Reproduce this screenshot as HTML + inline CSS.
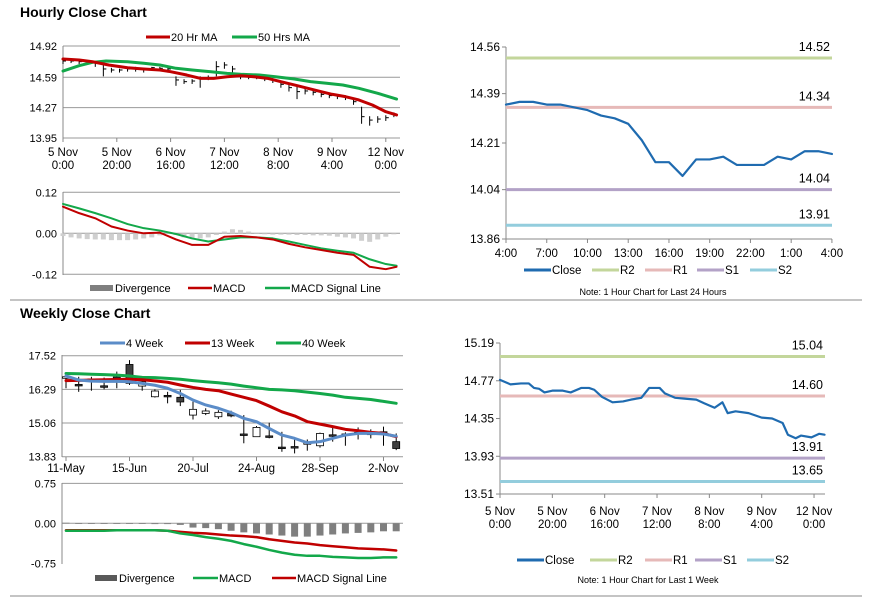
<!DOCTYPE html>
<html><head><meta charset="utf-8"><style>
html,body{margin:0;padding:0;background:#fff;}
svg{display:block;font-family:"Liberation Sans",Arial,sans-serif;}
</style></head><body>
<svg id="s" width="873" height="601" viewBox="0 0 873 601" xmlns="http://www.w3.org/2000/svg">
<rect x="0" y="0" width="873" height="601" fill="#fff"/>
<text x="20" y="17" font-size="14" font-weight="bold" fill="#000">Hourly Close Chart</text>
<text x="20" y="318" font-size="14" font-weight="bold" fill="#000">Weekly Close Chart</text>
<line x1="10" y1="300" x2="862" y2="300" stroke="#888" stroke-width="1"/>
<line x1="10" y1="596" x2="862" y2="596" stroke="#888" stroke-width="1"/>
</svg>
<script>
// ---------- Hourly (top-left) ----------
const hBarHours = [0,3,6,9,12,15,18,21,24,27,30,33,36,39,42,45,48,51,54,57,60,63,66,69,72,75,78,81,84,87,90,93,96,99,102,105,108,111,114,117,120,123];
const hBarClose = [14.762,14.762,14.755,14.748,14.737,14.678,14.667,14.667,14.678,14.674,14.667,14.692,14.685,14.678,14.562,14.544,14.551,14.579,14.586,14.702,14.720,14.678,14.597,14.590,14.586,14.579,14.562,14.516,14.481,14.439,14.446,14.432,14.410,14.397,14.387,14.375,14.333,14.175,14.139,14.150,14.164,14.193];
const hBarHigh = [14.78,14.78,14.77,14.76,14.75,14.74,14.69,14.68,14.70,14.70,14.69,14.70,14.70,14.69,14.60,14.57,14.57,14.60,14.61,14.76,14.75,14.71,14.61,14.61,14.60,14.60,14.58,14.55,14.51,14.50,14.47,14.45,14.44,14.42,14.41,14.40,14.37,14.28,14.18,14.18,14.19,14.22];
const hBarLow = [14.73,14.74,14.73,14.72,14.70,14.60,14.64,14.64,14.65,14.65,14.64,14.66,14.66,14.64,14.50,14.52,14.52,14.48,14.56,14.60,14.68,14.64,14.57,14.57,14.57,14.55,14.53,14.48,14.44,14.36,14.41,14.40,14.38,14.37,14.36,14.35,14.30,14.10,14.08,14.11,14.13,14.17];
const hMa20Hours = [0,6,11,17,24,30,36,40,46,51,56,61,66,71,76,81,86,91,96,100,105,110,115,120,124];
const hMa20 = [14.783,14.772,14.754,14.720,14.691,14.678,14.667,14.649,14.614,14.579,14.579,14.596,14.607,14.596,14.579,14.544,14.509,14.474,14.438,14.411,14.386,14.351,14.298,14.227,14.193];
const hMa50Hours = [0,6,11,16,24,30,36,42,48,55,61,66,73,79,86,92,98,104,110,117,124];
const hMa50 = [14.656,14.712,14.748,14.762,14.754,14.738,14.720,14.685,14.667,14.649,14.632,14.622,14.614,14.596,14.572,14.544,14.527,14.509,14.474,14.421,14.361];
const hYTicks = [14.92,14.59,14.27,13.95];
const hYTickLabels = ["14.92","14.59","14.27","13.95"];
const hXTickHours = [0,20,40,60,80,100,120];
const hXLabels1 = ["5 Nov","5 Nov","6 Nov","7 Nov","8 Nov","9 Nov","12 Nov"];
const hXLabels2 = ["0:00","20:00","16:00","12:00","8:00","4:00","0:00"];
// Hourly MACD
const hMacdHours = [0,6,12,18,24,30,36,42,48,54,60,66,72,78,84,90,96,102,108,114,120,124];
const hMacd = [0.078,0.059,0.044,0.020,0.008,0,0.002,-0.018,-0.034,-0.034,-0.010,-0.008,-0.012,-0.018,-0.031,-0.041,-0.049,-0.057,-0.063,-0.098,-0.105,-0.098];
const hSignal = [0.086,0.073,0.059,0.044,0.027,0.015,0.008,-0.002,-0.015,-0.024,-0.018,-0.012,-0.012,-0.015,-0.024,-0.034,-0.044,-0.051,-0.057,-0.076,-0.090,-0.095];
const hDiv = [-0.008,-0.012,-0.015,-0.017,-0.018,-0.018,-0.02,-0.02,-0.02,-0.018,-0.015,-0.012,-0.006,0.003,-0.005,-0.012,-0.015,-0.015,-0.012,-0.005,0.005,0.012,0.01,0.005,0,-0.003,-0.004,-0.004,-0.004,-0.005,-0.005,-0.006,-0.006,-0.007,-0.01,-0.012,-0.015,-0.022,-0.025,-0.018,-0.01,-0.003];
const hMacdTicks = [0.12,0,-0.12];
const hMacdTickLabels = ["0.12","0.00","-0.12"];

// ---------- 24h (top-right) ----------
const dLabels = ["4:00","7:00","10:00","13:00","16:00","19:00","22:00","1:00","4:00"];
const dClose = [14.35,14.36,14.36,14.35,14.35,14.34,14.33,14.31,14.30,14.28,14.22,14.14,14.14,14.09,14.15,14.15,14.16,14.13,14.13,14.13,14.16,14.15,14.18,14.18,14.17];
const dLevels = [14.52,14.34,14.04,13.91];
const dLevelLabels = ["14.52","14.34","14.04","13.91"];
const dYTicks = [14.56,14.39,14.21,14.04,13.86];
const dYTickLabels = ["14.56","14.39","14.21","14.04","13.86"];

// ---------- Weekly (bottom-left) ----------
const wOpen = [16.74,16.47,16.67,16.42,16.74,17.20,16.41,16.02,16.07,16.00,15.35,15.41,15.29,15.41,14.66,14.56,14.59,14.18,14.20,14.34,14.23,14.63,14.66,14.72,14.69,14.74,14.38];
const wHigh = [16.81,16.75,16.75,16.72,16.94,17.36,16.63,16.29,16.20,16.27,15.84,15.60,15.53,15.51,15.35,14.95,15.07,14.74,14.46,14.46,14.71,14.93,14.72,14.90,14.83,14.93,14.68];
const wLow = [16.33,16.20,16.24,16.29,16.33,16.45,16.24,15.99,15.78,15.68,15.19,15.35,15.21,15.27,14.32,14.56,14.50,14.01,13.95,14.05,14.16,14.38,14.23,14.46,14.50,14.23,14.07];
const wClose = [16.75,16.45,16.61,16.41,16.73,16.51,16.57,16.23,16.06,15.83,15.56,15.50,15.45,15.32,14.65,14.90,14.58,14.17,14.19,14.34,14.68,14.62,14.65,14.71,14.68,14.68,14.13];
const w4 = [16.78,16.63,16.59,16.58,16.58,16.57,16.51,16.44,16.33,16.14,15.90,15.72,15.60,15.44,15.23,15.11,14.86,14.62,14.50,14.34,14.38,14.50,14.62,14.68,14.68,14.66,14.58];
const w13 = [16.61,16.62,16.63,16.64,16.65,16.66,16.64,16.60,16.55,16.45,16.36,16.29,16.24,16.12,16.00,15.88,15.68,15.47,15.32,15.11,15.02,14.93,14.83,14.78,14.72,14.68,14.56];
const w40 = [16.87,16.86,16.84,16.83,16.81,16.78,16.73,16.72,16.69,16.66,16.61,16.57,16.53,16.48,16.41,16.35,16.29,16.27,16.24,16.19,16.14,16.08,16.00,15.96,15.92,15.85,15.78];
const wYTicks = [17.52,16.29,15.06,13.83];
const wYTickLabels = ["17.52","16.29","15.06","13.83"];
const wXTickIdx = [0,5,10,15,20,25];
const wXLabels = ["11-May","15-Jun","20-Jul","24-Aug","28-Sep","2-Nov"];
const wDiv = [0.01,0.005,0.005,0.005,0.005,0.005,0.005,-0.005,-0.01,-0.03,-0.08,-0.09,-0.11,-0.14,-0.17,-0.19,-0.21,-0.23,-0.25,-0.25,-0.23,-0.21,-0.19,-0.18,-0.17,-0.15,-0.15];
const wMacd = [-0.14,-0.14,-0.14,-0.14,-0.13,-0.13,-0.13,-0.13,-0.14,-0.19,-0.22,-0.26,-0.29,-0.33,-0.39,-0.44,-0.50,-0.55,-0.59,-0.61,-0.61,-0.63,-0.64,-0.65,-0.65,-0.64,-0.64];
const wSignal = [-0.13,-0.13,-0.13,-0.13,-0.13,-0.13,-0.13,-0.13,-0.14,-0.16,-0.18,-0.19,-0.21,-0.23,-0.24,-0.26,-0.30,-0.33,-0.36,-0.38,-0.41,-0.43,-0.45,-0.47,-0.48,-0.49,-0.51];
const wMacdTicks = [0.75,0,-0.75];
const wMacdTickLabels = ["0.75","0.00","-0.75"];

// ---------- Week hourly (bottom-right) ----------
const bHours = [0,4,8,11,13,15,17,20,24,27,31,34,36,39,43,47,50,54,57,61,63,67,71,75,78,82,85,87,90,95,100,104,108,110,113,115,119,122,124];
const bClose = [14.78,14.73,14.74,14.74,14.69,14.68,14.64,14.66,14.66,14.64,14.69,14.69,14.67,14.59,14.53,14.54,14.56,14.58,14.69,14.69,14.63,14.58,14.57,14.56,14.52,14.47,14.53,14.41,14.43,14.41,14.36,14.35,14.30,14.17,14.13,14.16,14.14,14.18,14.17];
const bLevels = [15.04,14.60,13.91,13.65];
const bLevelLabels = ["15.04","14.60","13.91","13.65"];
const bYTicks = [15.19,14.77,14.35,13.93,13.51];
const bYTickLabels = ["15.19","14.77","14.35","13.93","13.51"];
const bXTickHours = [0,20,40,60,80,100,120];
const levelColors = ["#c3d69b","#e6b9b8","#b3a2c7","#93cddd"];

const svg = document.getElementById('s');
const NS = 'http://www.w3.org/2000/svg';
function mk(tag, attrs, parent){
  const e = document.createElementNS(NS, tag);
  for (const k in attrs) e.setAttribute(k, attrs[k]);
  (parent||svg).appendChild(e);
  return e;
}
function txt(s, x, y, anchor, size){
  const t = mk('text', {x:x, y:y, 'text-anchor':anchor||'start', 'font-size':size||11, fill:'#000'});
  t.textContent = s;
  return t;
}
function poly(xs, ys, color, w){
  let d = '';
  for (let i=0;i<xs.length;i++) d += (i?'L':'M') + xs[i].toFixed(2) + ' ' + ys[i].toFixed(2);
  return mk('path', {d:d, fill:'none', stroke:color, 'stroke-width':w||2.5, 'stroke-linejoin':'round', 'stroke-linecap':'round'});
}

// Hourly scales
const hx = h => 63 + h*2.69;
const hy = p => 46 + (14.92-p)*94.85;
const hmy = v => 233.3 - v*341.7;
hYTicks.forEach((v,i)=>{
  const g = mk('line',{x1:63,x2:400,y1:hy(v),y2:hy(v),stroke:'#999','stroke-width':1});
  
  
  const t = txt(hYTickLabels[i], 57, hy(v)+4, 'end');
  
  
});
{const a = mk('line',{x1:63,x2:63,y1:46,y2:138,stroke:'#888'});

}
hXTickHours.forEach((h,i)=>{
  mk('line',{x1:hx(h),x2:hx(h),y1:138,y2:142,stroke:'#888'});
  const t1 = txt(hXLabels1[i], hx(h), 156, 'middle', 11.5);
  
  
  const t2 = txt(hXLabels2[i], hx(h), 169, 'middle', 11.5);
  
  
});
hBarHours.forEach((h,i)=>{
  const b = mk('line',{x1:hx(h),x2:hx(h),y1:hy(hBarHigh[i]),y2:hy(hBarLow[i]),stroke:'#000','stroke-width':1});
  
  
  const c = mk('line',{x1:hx(h),x2:hx(h)+3,y1:hy(hBarClose[i]),y2:hy(hBarClose[i]),stroke:'#000','stroke-width':1});
  
  
});
{const l = poly(hMa50Hours.map(hx), hMa50.map(hy), '#13a84a', 3);


const l2 = poly(hMa20Hours.map(hx), hMa20.map(hy), '#c00000', 3);

}
{const a = mk('line',{x1:146,x2:170,y1:37,y2:37,stroke:'#c00000','stroke-width':3});


const t = txt('20 Hr MA',171,41,'start',11);


const b = mk('line',{x1:232,x2:257,y1:37,y2:37,stroke:'#13a84a','stroke-width':3});


const t2 = txt('50 Hrs MA',258,41,'start',11);

}

// Hourly MACD
hMacdTicks.forEach((v,i)=>{
  const g = mk('line',{x1:63,x2:400,y1:hmy(v),y2:hmy(v),stroke:'#999'});
  
  
  const t = txt(hMacdTickLabels[i],57,hmy(v)+4,'end');
  
  
});
mk('line',{x1:63,x2:63,y1:192,y2:275,stroke:'#888'});
hDiv.forEach((v,i)=>{
  const h = hBarHours[i];
  const y0 = hmy(0), y1 = hmy(v);
  const r = mk('rect',{x:hx(h)-2.5,y:Math.min(y0,y1),width:5,height:Math.max(Math.abs(y1-y0),0.6),fill:'#cfcfcf'});
  
  
});
{const l = poly(hMacdHours.map(hx), hSignal.map(hmy), '#13a84a', 2);


const l2 = poly(hMacdHours.map(hx), hMacd.map(hmy), '#c00000', 2);

}
{const r = mk('rect',{x:90,y:285,width:23,height:6,fill:'#7f7f7f'});


const t = txt('Divergence',115,292);


const a = mk('line',{x1:188,x2:212,y1:288,y2:288,stroke:'#c00000','stroke-width':2.5});


const t2 = txt('MACD',213,292);


const b = mk('line',{x1:265,x2:290,y1:288,y2:288,stroke:'#13a84a','stroke-width':2.5});


const t3 = txt('MACD Signal Line',291,292);

}

function levelChart(prefix, ax, ay0, ay1, xr, xs, ys, levels, labels, yTicks, yLabels, ycb, labelX){
  mk('line',{x1:ax,x2:ax,y1:ay0,y2:ay1,stroke:'#888'});
  mk('line',{x1:ax,x2:xr,y1:ay1,y2:ay1,stroke:'#888'});
  yTicks.forEach((v,i)=>{
    mk('line',{x1:ax-4,x2:ax,y1:ycb(v),y2:ycb(v),stroke:'#888'});
    const t = txt(yLabels[i], ax-6, ycb(v)+4, 'end', 12);
    
    
  });
  levels.forEach((v,i)=>{
    const l = mk('line',{x1:ax,x2:xr,y1:ycb(v),y2:ycb(v),stroke:levelColors[i],'stroke-width':3});
    
    
  });
  const c = poly(xs, ys.map(ycb), '#1f6bb0', 2.2);
  
  
  levels.forEach((v,i)=>{
    const t = txt(labels[i], labelX, ycb(v)-7, 'end', 12.5);
    
    
  });
}
function levelLegend(prefix, y, xs, note, noteX, noteY){
  const names = ['Close','R2','R1','S1','S2'];
  const cols = ['#1f6bb0'].concat(levelColors);
  names.forEach((n,i)=>{
    const l = mk('line',{x1:xs[i],x2:xs[i]+27,y1:y,y2:y,stroke:cols[i],'stroke-width':3});
    
    
    const t = txt(n, xs[i]+28, y+4, 'start', 11.5);
    
    
  });
  const t = txt(note, noteX, noteY, 'middle', 9);
  
  
}
const dx = i => 506 + i*13.58;
const dy = p => 47 + (14.56-p)*274.3;
levelChart('daily', 506, 47, 239, 832, dClose.map((v,i)=>dx(i)), dClose, dLevels, dLevelLabels, dYTicks, dYTickLabels, dy, 830);
dLabels.forEach((s,i)=>{
  const x = dx(i*3);
  mk('line',{x1:x,x2:x,y1:239,y2:243,stroke:'#888'});
  const t = txt(s, x, 257, 'middle', 11.5);
  
  
});
levelLegend('daily', 270, [524,592,645,697,750], 'Note: 1 Hour Chart for Last 24 Hours', 653, 295);

const bx = h => 500 + h*2.617;
const by = p => 343 + (15.19-p)*89.9;
levelChart('weekhourly', 500, 343, 494, 825, bHours.map(bx), bClose, bLevels, bLevelLabels, bYTicks, bYTickLabels, by, 823);
bXTickHours.forEach((h,i)=>{
  const x = bx(h);
  mk('line',{x1:x,x2:x,y1:494,y2:498,stroke:'#888'});
  const t1 = txt(hXLabels1[i], x, 515, 'middle', 11.5);
  
  
  const t2 = txt(hXLabels2[i], x, 528, 'middle', 11.5);
  
  
});
levelLegend('weekhourly', 560, [517,590,645,695,747], 'Note: 1 Hour Chart for Last 1 Week', 648, 583);

const wx = i => 66 + i*12.7;
const wy = p => 355.7 + (17.52-p)*27.37;
const wmy = v => 523.3 - v*53.3;
wYTicks.forEach((v,i)=>{
  const g = mk('line',{x1:62,x2:403,y1:wy(v),y2:wy(v),stroke:'#999'});
  
  
  const t = txt(wYTickLabels[i],56,wy(v)+4,'end');
  
  
});
mk('line',{x1:62,x2:62,y1:355,y2:457,stroke:'#888'});
wXTickIdx.forEach((k,i)=>{
  mk('line',{x1:wx(k),x2:wx(k),y1:457,y2:461,stroke:'#888'});
  const t = txt(wXLabels[i], wx(k), 472, 'middle', 11.5);
  
  
});
wOpen.forEach((o,i)=>{
  const x = wx(i), c = wClose[i];
  const w = mk('line',{x1:x,x2:x,y1:wy(wHigh[i]),y2:wy(wLow[i]),stroke:'#000','stroke-width':1});
  
  
  const top = wy(Math.max(o,c)), bot = wy(Math.min(o,c));
  const r = mk('rect',{x:x-3.5,y:top,width:7,height:Math.max(bot-top,1.5),fill:(c>=o)?'#fff':'#404040',stroke:'#000','stroke-width':0.8});
  
  
});
{const xs = wOpen.map((v,i)=>wx(i));
const g = poly(xs, w40.map(wy), '#13a84a', 3);


const r = poly(xs, w13.map(wy), '#c00000', 3);


const b = poly(xs, w4.map(wy), '#5b8cc8', 3);

}
[[100,'#5b8cc8','4 Week','legend-4-week'],[185,'#c00000','13 Week','legend-13-week'],[276,'#13a84a','40 Week','legend-40-week']].forEach(a=>{
  const l = mk('line',{x1:a[0],x2:a[0]+25,y1:343,y2:343,stroke:a[1],'stroke-width':3});
  
  
  const t = txt(a[2], a[0]+26, 347);
  
  
});
[0.75,0].forEach(v=>{
  const g = mk('line',{x1:62,x2:403,y1:wmy(v),y2:wmy(v),stroke:'#999'});
  
  
});
wMacdTicks.forEach((v,i)=>{
  const t = txt(wMacdTickLabels[i],56,wmy(v)+4,'end');
  
  
});
mk('line',{x1:62,x2:62,y1:483,y2:564,stroke:'#888'});
wDiv.forEach((v,i)=>{
  const y0 = wmy(0), y1 = wmy(v);
  const r = mk('rect',{x:wx(i)-3.5,y:Math.min(y0,y1),width:7,height:Math.max(Math.abs(y1-y0),0.8),fill:'#7f7f7f'});
  
  
});
{const xs = wOpen.map((v,i)=>wx(i));
const s = poly(xs, wSignal.map(wmy), '#c00000', 2.5);


const m = poly(xs, wMacd.map(wmy), '#13a84a', 2.5);

}
{const r = mk('rect',{x:95,y:575,width:22,height:6,fill:'#595959'});


const t = txt('Divergence',119,582);


const a = mk('line',{x1:193,x2:218,y1:578,y2:578,stroke:'#13a84a','stroke-width':2.5});


const t2 = txt('MACD',219,582);


const b = mk('line',{x1:272,x2:296,y1:578,y2:578,stroke:'#c00000','stroke-width':2.5});


const t3 = txt('MACD Signal Line',297,582);

}
</script>
</body></html>
